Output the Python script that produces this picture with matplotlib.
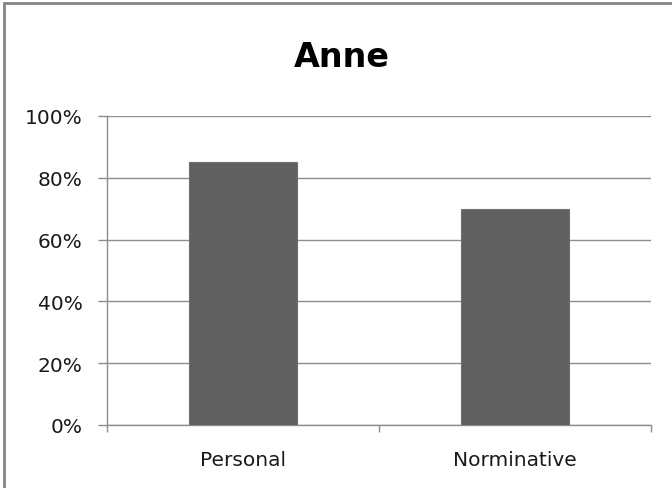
import matplotlib
matplotlib.use('Agg')
import matplotlib.pyplot as plt
from matplotlib.patches import Rectangle
from matplotlib.ticker import FixedLocator, PercentFormatter

# chart data
title = 'Anne'
categories = ['Personal', 'Norminative']
values = [85, 70]
y_ticks = [0, 20, 40, 60, 80, 100]

plt.rcParams['font.family'] = ['DejaVu Sans']

bar_color = '#606060'
grid_color = '#8e8e8e'
text_color = '#1a1a1a'

fig = plt.figure(figsize=(6.72, 4.89), dpi=100)
ax = fig.add_axes([107 / 672, 1 - 426 / 489, 544 / 672, 309 / 489])

xs = range(len(categories))
ax.bar(xs, values, width=0.4, color=bar_color, edgecolor='#707070',
       linewidth=0.8, zorder=3)

ax.set_xlim(-0.5, len(categories) - 0.5)
ax.set_ylim(0, 100)
ax.set_yticks(y_ticks)
ax.yaxis.set_major_formatter(PercentFormatter(decimals=0))
ax.set_xticks(list(xs))
ax.set_xticklabels(categories)
ax.tick_params(axis='x', which='major', length=0, pad=18, labelsize=14.5,
               labelcolor=text_color)
# category boundary ticks on the x axis
ax.xaxis.set_minor_locator(FixedLocator([-0.5, 0.5, 1.5]))
ax.tick_params(axis='x', which='minor', length=5, width=1, color=grid_color)
ax.tick_params(axis='y', length=6.5, width=1, color=grid_color, pad=11,
               labelsize=14.5, labelcolor=text_color)

ax.grid(axis='y', color=grid_color, linewidth=1, zorder=0)
for side in ['top', 'right']:
    ax.spines[side].set_visible(False)
for side in ['left', 'bottom']:
    ax.spines[side].set_color(grid_color)
    ax.spines[side].set_linewidth(1)

fig.text(342 / 672, 1 - 67 / 489, title, ha='center', va='baseline',
         fontsize=24, fontweight='bold')

# outer chart frame
fig.patches.append(Rectangle((4 / 672, -0.1), 1.1, 1 - 4 / 489 + 0.1,
                             transform=fig.transFigure, fill=False,
                             edgecolor='#858585', linewidth=2))

fig.savefig('out.png', dpi=100)
